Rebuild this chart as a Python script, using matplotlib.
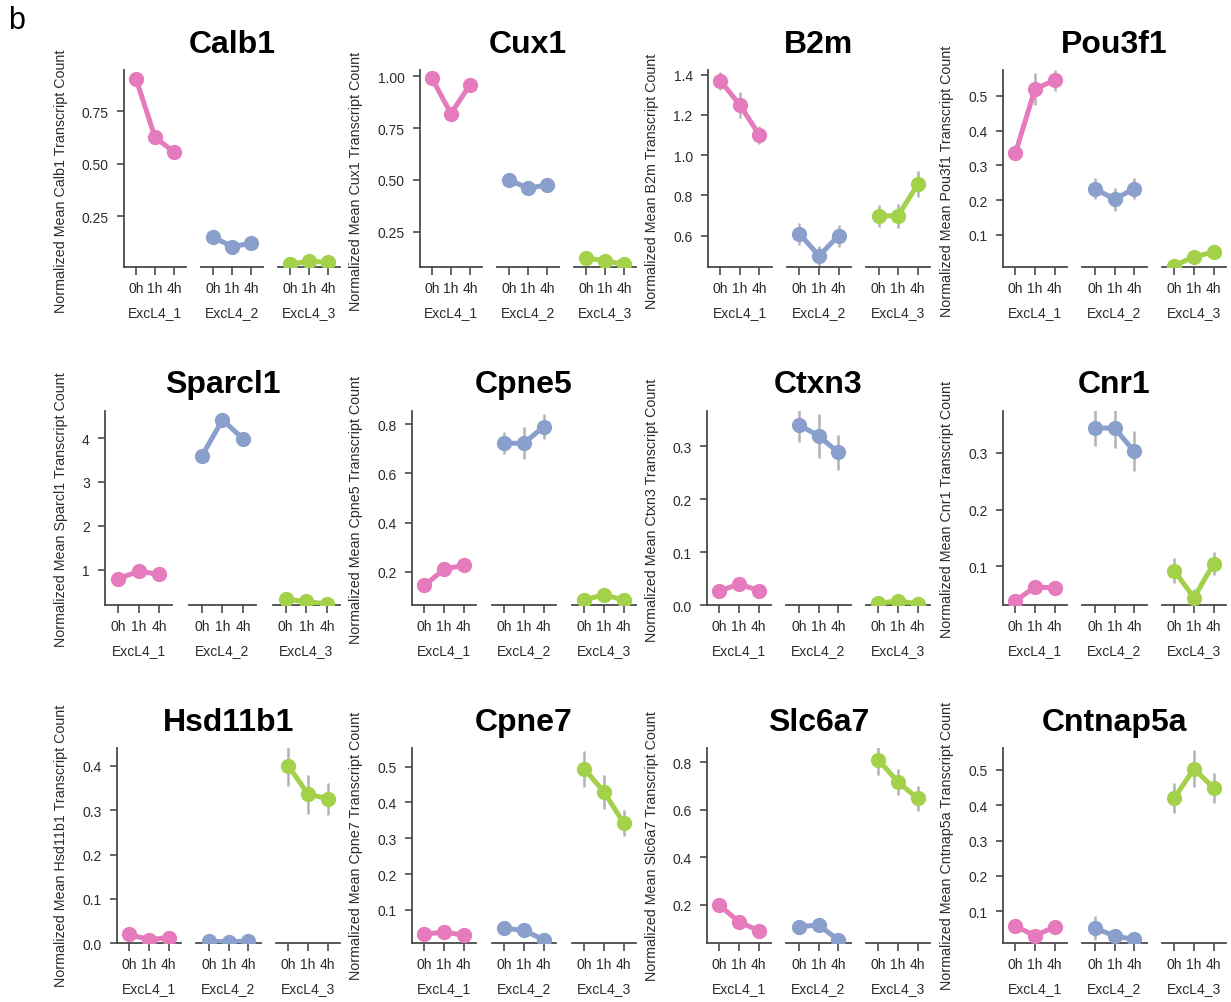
import numpy as np
import matplotlib.pyplot as plt

plt.rcParams['font.family'] = ['Liberation Sans', 'DejaVu Sans']

genes = ['Calb1', 'Cux1', 'B2m', 'Pou3f1',
         'Sparcl1', 'Cpne5', 'Ctxn3', 'Cnr1',
         'Hsd11b1', 'Cpne7', 'Slc6a7', 'Cntnap5a']
groups = ['ExcL4_1', 'ExcL4_2', 'ExcL4_3']
times = ['0h', '1h', '4h']
colors = ['#E57ABC', '#8B9FCC', '#A3D14A']

# mean per gene (rows) and time point (columns), one array per cluster
mean_excl4_1 = [[0.905, 0.625, 0.555], [0.99, 0.82, 0.96], [1.37, 1.25, 1.10],
                [0.335, 0.52, 0.545], [0.79, 0.96, 0.89], [0.145, 0.21, 0.227],
                [0.026, 0.040, 0.027], [0.039, 0.064, 0.062], [0.020, 0.008, 0.013],
                [0.033, 0.038, 0.030], [0.197, 0.128, 0.090], [0.057, 0.031, 0.055]]
mean_excl4_2 = [[0.15, 0.105, 0.12], [0.50, 0.46, 0.475], [0.61, 0.50, 0.60],
                [0.233, 0.203, 0.233], [3.59, 4.42, 3.98], [0.722, 0.722, 0.79],
                [0.341, 0.320, 0.289], [0.344, 0.344, 0.303], [0.005, 0.003, 0.005],
                [0.049, 0.043, 0.017], [0.107, 0.114, 0.052], [0.052, 0.030, 0.020]]
mean_excl4_3 = [[0.02, 0.035, 0.03], [0.125, 0.108, 0.094], [0.697, 0.70, 0.855],
                [0.012, 0.037, 0.051], [0.32, 0.27, 0.21], [0.086, 0.106, 0.086],
                [0.003, 0.008, 0.002], [0.092, 0.045, 0.105], [0.40, 0.336, 0.326],
                [0.494, 0.43, 0.343], [0.811, 0.716, 0.648], [0.421, 0.503, 0.449]]

# error bar half-lengths
err_excl4_1 = [[0.03, 0.02, 0.015], [0.02, 0.03, 0.02], [0.045, 0.065, 0.045],
               [0.015, 0.045, 0.03], [0.06, 0.06, 0.06], [0.012, 0.015, 0.015],
               [0.005, 0.006, 0.005], [0.006, 0.008, 0.008], [0.004, 0.003, 0.003],
               [0.006, 0.007, 0.006], [0.012, 0.012, 0.01], [0.008, 0.008, 0.008]]
err_excl4_2 = [[0.015, 0.012, 0.012], [0.02, 0.03, 0.025], [0.055, 0.05, 0.055],
               [0.03, 0.033, 0.03], [0.1, 0.1, 0.1], [0.044, 0.065, 0.05],
               [0.032, 0.042, 0.033], [0.032, 0.035, 0.035], [0.002, 0.002, 0.002],
               [0.007, 0.007, 0.005], [0.012, 0.015, 0.01], [0.034, 0.01, 0.008]]
err_excl4_3 = [[0.008, 0.008, 0.008], [0.01, 0.01, 0.01], [0.055, 0.06, 0.065],
               [0.006, 0.008, 0.01], [0.05, 0.05, 0.05], [0.01, 0.015, 0.01],
               [0.002, 0.003, 0.002], [0.022, 0.015, 0.02], [0.045, 0.044, 0.036],
               [0.05, 0.047, 0.037], [0.063, 0.055, 0.053], [0.042, 0.052, 0.043]]

y_low = [0.006, 0.078, 0.443, 0.007, 0.19, 0.065, 0.0, 0.032, 0.0, 0.007, 0.037, 0.009]
y_high = [0.948, 1.033, 1.426, 0.576, 4.62, 0.853, 0.367, 0.374, 0.44, 0.552, 0.86, 0.562]
y_ticks = [[0.25, 0.5, 0.75], [0.25, 0.5, 0.75, 1.0], [0.6, 0.8, 1.0, 1.2, 1.4],
           [0.1, 0.2, 0.3, 0.4, 0.5], [1, 2, 3, 4], [0.2, 0.4, 0.6, 0.8],
           [0.0, 0.1, 0.2, 0.3], [0.1, 0.2, 0.3], [0.0, 0.1, 0.2, 0.3, 0.4],
           [0.1, 0.2, 0.3, 0.4, 0.5], [0.2, 0.4, 0.6, 0.8], [0.1, 0.2, 0.3, 0.4, 0.5]]
y_decimals = [2, 2, 1, 1, 0, 1, 1, 1, 1, 1, 1, 1]

means = [mean_excl4_1, mean_excl4_2, mean_excl4_3]
errs = [err_excl4_1, err_excl4_2, err_excl4_3]

# layout in pixels
W, H = 1231, 1003
left_px = [124, 420, 708, 1003, 105, 412, 707, 1003, 117, 412, 707, 1003]
right_px = [340, 636, 930, 1226]
top_px = [70.5, 412, 749]
bottom_px = [268.3, 606, 944.3]
ylab_x = [61, 356, 652, 947]
ylab_y = [181, 510, 846]
title_y = [53, 393, 731]

axis_col = '#4a4a4a'
text_col = '#2b2b2b'

fig = plt.figure(figsize=(W / 100, H / 100), dpi=100)
fig.text(8 / W, 1 - 6 / H, 'b', fontsize=22, va='top', ha='left')

gw, gap = 0.287, 0.0695
x = np.arange(3)

for i, gene in enumerate(genes):
    r, c = divmod(i, 4)
    L, R = left_px[i], right_px[c]
    T, B = top_px[r], bottom_px[r]
    span = R - L
    for g in range(3):
        gl = L + g * (gw + gap) * span
        ax = fig.add_axes([gl / W, 1 - B / H, gw * span / W, (B - T) / H])
        m = np.array(means[g][i])
        e = np.array(errs[g][i])
        ax.vlines(x, m - e, m + e, color='#b3b3b3', lw=1.8, zorder=2)
        ax.plot(x, m, '-o', color=colors[g], lw=3.6, ms=11, mew=0, zorder=3)
        ax.set_xlim(-0.63, 2.63)
        ax.set_ylim(y_low[i], y_high[i])
        ax.set_xticks(x)
        ax.set_xticklabels(times, fontsize=10, color=text_col)
        ax.tick_params(axis='x', length=6, width=1.2, color=axis_col, pad=4)
        ax.set_xlabel(groups[g], fontsize=10, color=text_col, labelpad=7)
        ax.patch.set_visible(False)
        for s in ['top', 'right']:
            ax.spines[s].set_visible(False)
        ax.spines['bottom'].set_color(axis_col)
        ax.spines['bottom'].set_linewidth(1.3)
        if g == 0:
            ax.spines['left'].set_color(axis_col)
            ax.spines['left'].set_linewidth(1.3)
            ax.set_yticks(y_ticks[i])
            ax.set_yticklabels([f'{t:.{y_decimals[i]}f}' for t in y_ticks[i]],
                               fontsize=10, color=text_col)
            ax.tick_params(axis='y', length=5, width=1.2, color=axis_col, pad=6)
        else:
            ax.spines['left'].set_visible(False)
            ax.set_yticks([])
    fig.text((L + R) / 2 / W, 1 - title_y[r] / H, gene, fontsize=23,
             fontweight='bold', ha='center', va='baseline')
    fig.text(ylab_x[c] / W, 1 - ylab_y[r] / H,
             f'Normalized Mean {gene} Transcript Count', rotation=90,
             fontsize=10.3, color=text_col, ha='center', va='center')

fig.savefig('out.png', dpi=100)
